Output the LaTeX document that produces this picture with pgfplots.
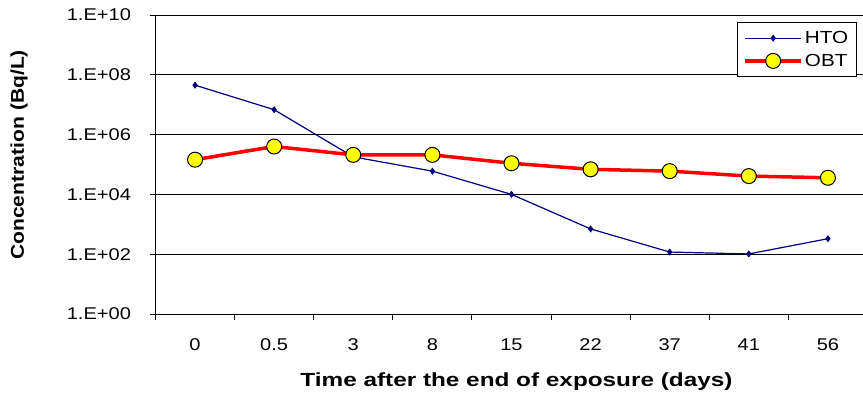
\documentclass[border=0pt]{standalone}
\usepackage{fontspec}
\setmainfont{Liberation Sans}[FakeStretch=1.18]
\newfontfamily\titlefont{Liberation Sans}[FakeStretch=1.28]
\newfontfamily\ylabfont{Liberation Sans}[FakeStretch=1.14]
\usepackage{pgfplots}
\pgfplotsset{compat=1.18}
\definecolor{htoblue}{RGB}{0,0,128}
\definecolor{obtred}{RGB}{255,0,0}
\definecolor{obtyellow}{RGB}{255,255,0}
\begin{document}
\begin{tikzpicture}
\useasboundingbox (0,0) rectangle (863pt,397pt);
\clip (0,0) rectangle (863pt,397pt);
\begin{axis}[
 at={(155.5pt,83pt)}, anchor=south west,
 scale only axis, width=712pt, height=299pt,
 xmin=-0.5, xmax=8.5,
 ymode=log, log basis y=10, ymin=1, ymax=1e10,
 ytick={1,1e2,1e4,1e6,1e8,1e10},
 yticklabels={1.E+00,1.E+02,1.E+04,1.E+06,1.E+08,1.E+10},
 yminorticks=false,
 xtick={0,...,8},
 xticklabels={0,0.5,3,8,15,22,37,41,56},
 minor xtick={-0.5,0.5,...,8.5},
 axis lines*=left,
 axis line style={-, black, line width=0.9pt},
 tick align=outside,
 major x tick style={draw=none},
 minor x tick style={black, line width=0.9pt},
 y tick style={black, line width=0.9pt},
 major tick length=6pt, minor tick length=6pt,
 ymajorgrids, grid style={black, line width=0.8pt},
 /pgf/number format/assume math mode=true,
 tick label style={font=\fontsize{17}{20}\selectfont},
 y tick label style={anchor=east, xshift=-15pt},
 x tick label style={yshift=-15pt},
 xlabel={Time after the end of exposure (days)},
 ylabel={Concentration (Bq/L)},
 every axis x label/.style={at={(axis description cs:0.507,-0.227)}, anchor=center, font=\titlefont\bfseries\fontsize{19}{22}\selectfont},
 every axis y label/.style={at={(axis description cs:-0.1917,0.532)}, anchor=center, rotate=90, font=\ylabfont\bfseries\fontsize{18.5}{22}\selectfont},
 legend style={at={(rel axis cs:0.8167,0.977)}, anchor=north west, draw=black, line width=0.9pt, fill=white, font=\fontsize{17.5}{20}\selectfont, row sep=5pt, inner xsep=6pt, inner ysep=7pt},
 legend cell align=left,
 legend image code/.code={\draw[mark repeat=2,mark phase=2,#1] plot coordinates {(0pt,0pt) (28pt,0pt) (56pt,0pt)};},
]
\addplot[htoblue, line width=1.2pt, mark=diamond*, mark size=2.6pt, mark options={fill=htoblue}]
 coordinates {(0,4.5e7)(1,6.8e6)(2,1.8e5)(3,6e4)(4,1e4)(5,700)(6,118)(7,102)(8,330)};
\addlegendentry{HTO}
\addplot[obtred, line width=3.5pt, mark=*, mark size=7.5pt, mark options={fill=obtyellow, draw=black, line width=1pt}]
 coordinates {(0,1.45e5)(1,4e5)(2,2.1e5)(3,2.1e5)(4,1.1e5)(5,6.9e4)(6,6e4)(7,4.1e4)(8,3.6e4)};
\addlegendentry{OBT}
\end{axis}
\end{tikzpicture}
\end{document}
